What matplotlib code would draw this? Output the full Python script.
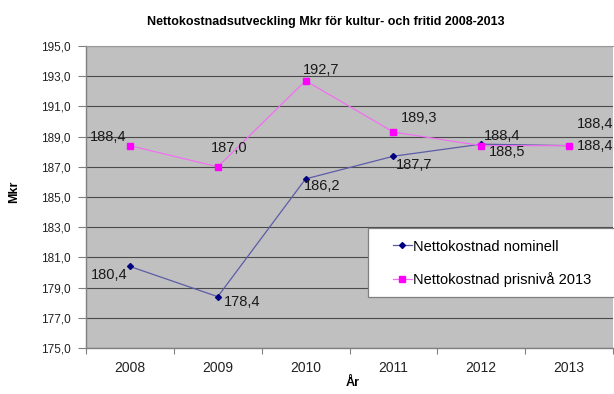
import numpy as np
import matplotlib
matplotlib.use("Agg")
import matplotlib.pyplot as plt
from matplotlib.patches import Rectangle
from matplotlib.lines import Line2D

plt.rcParams['font.family'] = ['Liberation Sans', 'DejaVu Sans']

years = ['2008', '2009', '2010', '2011', '2012', '2013']
nominell = [180.4, 178.4, 186.2, 187.7, 188.5, 188.4]
prisniva = [188.4, 187.0, 192.7, 189.3, 188.4, 188.4]
yticks = [175.0, 177.0, 179.0, 181.0, 183.0, 185.0, 187.0, 189.0, 191.0, 193.0, 195.0]

title = 'Nettokostnadsutveckling Mkr för kultur- och fritid 2008-2013'
name_nom = 'Nettokostnad nominell'
name_pris = 'Nettokostnad prisnivå 2013'

# label offsets in pixels (dx, dy) for each point
off_nom = [(-21, -9), (24, -5), (17, -7), (21, -9), (26, -8), (26, 22)]
off_pris = [(-22, 9), (11, 19), (16, 11), (26, 14), (21, 10), (26, 0)]

W, H = 614, 394
fig = plt.figure(figsize=(W / 100, H / 100), dpi=100)
ax = fig.add_axes([86 / W, 1 - 348 / H, (613 - 86) / W, (348 - 46) / H])
ax.set_facecolor('#c0c0c0')

x = np.arange(len(years))
blue_line = '#5c5ca8'
pink_line = '#f070f0'
ax.plot(x, nominell, color=blue_line, lw=0.9, zorder=3)
ax.plot(x, nominell, 'D', color='#000080', ms=3, zorder=4)
ax.plot(x, prisniva, color=pink_line, lw=0.9, zorder=3)
ax.plot(x, prisniva, 's', color='#ff00ff', ms=5, zorder=4)

def fmt(v):
    return f'{v:.1f}'.replace('.', ',')

for xi, v, (dx, dy) in zip(x, nominell, off_nom):
    ax.annotate(fmt(v), (xi, v), xytext=(dx * 0.72, dy * 0.72), textcoords='offset points',
                ha='center', va='center', fontsize=10.5, color='#1a1a1a', zorder=6)
for xi, v, (dx, dy) in zip(x, prisniva, off_pris):
    ax.annotate(fmt(v), (xi, v), xytext=(dx * 0.72, dy * 0.72), textcoords='offset points',
                ha='center', va='center', fontsize=10.5, color='#1a1a1a', zorder=6)

ax.set_xlim(-0.5, len(years) - 0.5)
ax.set_ylim(yticks[0], yticks[-1])
ax.set_yticks(yticks)
ax.set_yticklabels([fmt(v) for v in yticks], fontsize=8.5, color='#222222')
ax.yaxis.grid(True, color='#4a4a4a', lw=0.8)
ax.set_axisbelow(True)
ax.tick_params(axis='y', direction='out', length=6, width=0.8, color='#808080', pad=5)

ax.set_xticks(x)
ax.set_xticklabels(years, fontsize=10, color='#222222')
ax.set_xticks(np.arange(-0.5, len(years)), minor=True)
ax.tick_params(axis='x', which='major', length=0, pad=9)
ax.tick_params(axis='x', which='minor', direction='out', length=4, width=0.8, color='#808080')

for s in ['left', 'bottom']:
    ax.spines[s].set_color('#808080')
    ax.spines[s].set_linewidth(1.0)
ax.spines['top'].set_color('#9a9a9a')
ax.spines['right'].set_visible(False)

fig.text(325.5 / W, 1 - 21.5 / H, title, ha='center', va='center',
         fontsize=9, fontweight='bold')
fig.text(14 / W, 1 - 192 / H, 'Mkr', ha='center', va='center', rotation=90,
         fontsize=9, fontweight='bold')
fig.text(353 / W, 1 - 383 / H, 'År', ha='center', va='center',
         fontsize=9, fontweight='bold')

# legend box running off the right edge
box = Rectangle((368 / W, 1 - 297 / H), (W - 368) / W + 0.01, 69 / H,
                transform=fig.transFigure, facecolor='white', edgecolor='#7f7f7f',
                lw=0.9, zorder=5)
fig.patches.append(box)
handles = [Line2D([], [], color=blue_line, lw=0.9, marker='D', ms=3,
                  mfc='#000080', mec='#000080'),
           Line2D([], [], color=pink_line, lw=0.9, marker='s', ms=4,
                  mfc='#ff00ff', mec='#ff00ff')]
leg = fig.legend(handles, [name_nom, name_pris], loc='center left',
                 bbox_to_anchor=(393 / W, 1 - 263.5 / H), frameon=False,
                 fontsize=10.5, handlelength=1.3, handletextpad=0.1,
                 labelspacing=1.3, borderpad=0, borderaxespad=0)
leg.set_zorder(6)

fig.savefig('out.png', dpi=100)
